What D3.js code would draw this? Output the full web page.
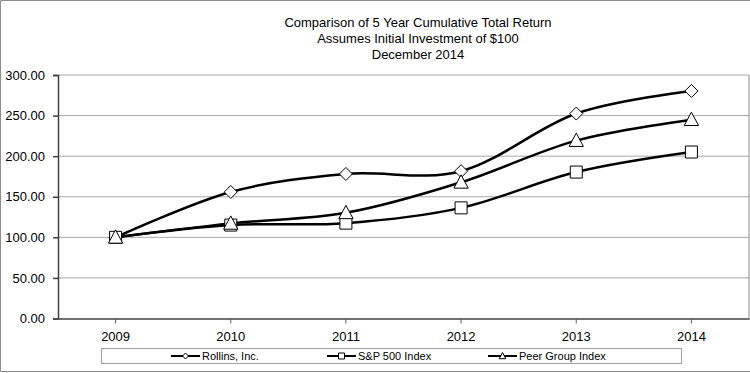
<!DOCTYPE html>
<html>
<head>
<meta charset="utf-8">
<script src="https://cdn.jsdelivr.net/npm/d3@7"></script>
<style>
  body { margin: 0; background: #fff; }
  svg { display: block; font-family: "Liberation Sans", Arial, sans-serif; }
</style>
</head>
<body>
<div id="grafico"></div>
<script>
// dados
const anos = ['2009', '2010', '2011', '2012', '2013', '2014'];
const rollins = [100, 155.9, 178.1, 181.5, 252.5, 280.3];
const sp500 = [100, 115.1, 117.5, 136.3, 180.4, 205.1];
const peer = [100, 117.2, 130.2, 167.8, 219.2, 245.0];
const yTicks = [0, 50, 100, 150, 200, 250, 300];
const titulo = ['Comparison of 5 Year Cumulative Total Return', 'Assumes Initial Investment of $100', 'December 2014'];

const series = [
  { nome: 'Rollins, Inc.', valores: rollins, marca: 'diamond' },
  { nome: 'S&P 500 Index', valores: sp500, marca: 'square' },
  { nome: 'Peer Group Index', valores: peer, marca: 'triangle' }
];

const largura = 750;
const altura = 373;
const area = { left: 58, right: 749, top: 75, bottom: 318.5 };

const svg = d3.select('#grafico').append('svg')
  .attr('width', largura)
  .attr('height', altura);

// borda externa
svg.append('path')
  .attr('d', `M${largura},0.5 H0.5 V371.5 H${largura}`)
  .attr('fill', 'none')
  .attr('stroke', '#8c8c8c');

// titulo
svg.selectAll('.titulo')
  .data(titulo)
  .enter()
  .append('text')
  .attr('class', 'titulo')
  .attr('x', 418)
  .attr('y', (d, i) => 26.5 + i * 16)
  .attr('text-anchor', 'middle')
  .attr('font-size', 13)
  .text((d) => d);

const x = d3.scaleBand().domain(anos).range([area.left, area.right]);
const y = d3.scaleLinear().domain([0, 300]).range([area.bottom, area.top]);
const cx = (d) => x(d) + x.bandwidth() / 2;

// grade
svg.selectAll('.grade')
  .data(yTicks.filter((t) => t > 0))
  .enter()
  .append('line')
  .attr('class', 'grade')
  .attr('x1', area.left)
  .attr('x2', area.right)
  .attr('y1', (d) => y(d))
  .attr('y2', (d) => y(d))
  .attr('stroke', '#a8a8a8')
  .attr('stroke-width', 1);

// borda direita
svg.append('line')
  .attr('x1', area.right).attr('x2', area.right)
  .attr('y1', area.top).attr('y2', area.bottom)
  .attr('stroke', '#8c8c8c');

// eixo Y
const eixoY = svg.append('g')
  .attr('transform', `translate(${area.left},0)`)
  .call(d3.axisLeft(y).tickValues(yTicks).tickSize(5).tickPadding(8).tickFormat(d3.format('.2f')));
eixoY.selectAll('text').attr('font-size', 13).attr('fill', '#000').attr('font-family', 'Liberation Sans, Arial, sans-serif');
eixoY.selectAll('line, path').attr('stroke', '#404040').attr('stroke-width', 1.5);

// eixo X
const eixoX = svg.append('g')
  .attr('transform', `translate(0,${area.bottom})`)
  .call(d3.axisBottom(x).tickSize(5).tickSizeOuter(0).tickPadding(8));
eixoX.selectAll('text').attr('font-size', 13).attr('fill', '#000').attr('font-family', 'Liberation Sans, Arial, sans-serif');
eixoX.selectAll('line').attr('stroke', '#606060').attr('stroke-width', 1);
eixoX.select('.domain').attr('stroke', '#404040').attr('stroke-width', 1.5);

// marcadores
function marcaPath(tipo, s) {
  if (tipo === 'diamond') return `M0,${-s}L${s},0L0,${s}L${-s},0Z`;
  if (tipo === 'square') return `M${-s},${-s}H${s}V${s}H${-s}Z`;
  return `M0,${-s * 1.15}L${s * 1.1},${s * 0.9}H${-s * 1.1}Z`;
}
const tamanho = { diamond: 6.5, square: 6, triangle: 6.5 };

const linha = d3.line()
  .x((d, i) => cx(anos[i]))
  .y((d) => y(d))
  .curve(d3.curveCardinal);

series.forEach((s) => {
  svg.append('path')
    .datum(s.valores)
    .attr('d', linha)
    .attr('fill', 'none')
    .attr('stroke', '#000')
    .attr('stroke-width', 2.5);
});

series.forEach((s) => {
  svg.selectAll(`.m-${s.marca}`)
    .data(s.valores)
    .enter()
    .append('path')
    .attr('class', `m-${s.marca}`)
    .attr('transform', (d, i) => `translate(${cx(anos[i])},${y(d)})`)
    .attr('d', marcaPath(s.marca, tamanho[s.marca]))
    .attr('fill', '#fff')
    .attr('stroke', '#000')
    .attr('stroke-width', 1);
});

// legenda
svg.append('rect')
  .attr('x', 101.5).attr('y', 348.5)
  .attr('width', 580).attr('height', 15)
  .attr('fill', '#fff')
  .attr('stroke', '#a0a0a0');

const legX = [171, 327, 488];
const leg = svg.selectAll('.leg')
  .data(series)
  .enter()
  .append('g')
  .attr('class', 'leg')
  .attr('transform', (d, i) => `translate(${legX[i]},356)`);

leg.append('line')
  .attr('x1', 0).attr('x2', 29)
  .attr('stroke', '#000').attr('stroke-width', 2);
leg.append('path')
  .attr('transform', 'translate(14.5,0)')
  .attr('d', (d) => marcaPath(d.marca, 3))
  .attr('fill', '#fff')
  .attr('stroke', '#000')
  .attr('stroke-width', 1);
leg.append('text')
  .attr('x', 31)
  .attr('y', 4)
  .attr('font-size', 11)
  .text((d) => d.nome);
</script>
</body>
</html>
